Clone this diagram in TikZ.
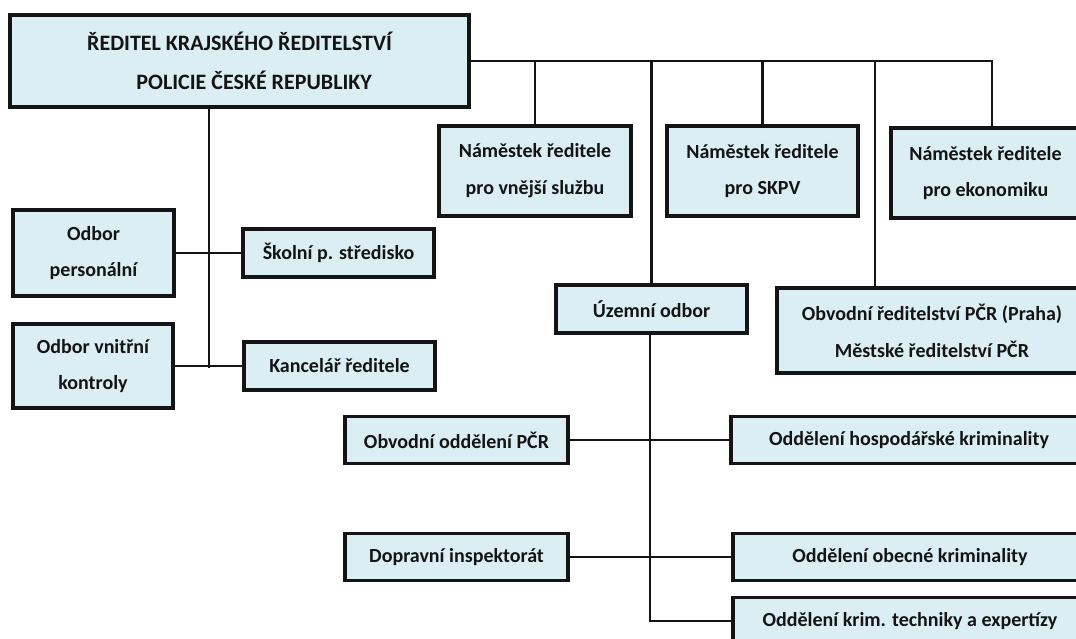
\documentclass[tikz,border=0pt]{standalone}
\usepackage{fontspec}
\setmainfont{Carlito}
\definecolor{boxfill}{HTML}{DAEEF3}
\definecolor{ink}{HTML}{141414}
\tikzset{
  box/.style 2 args={draw=ink, fill=boxfill, line width=2.3pt, inner sep=0pt,
    minimum width=#1*0.75pt, minimum height=#2*0.75pt, align=center,
    text=ink, font=\bfseries\fontsize{15}{27.6}\selectfont},
  topbox/.style={line width=3.7pt, font=\bfseries\fontsize{16.5}{28.2}\selectfont},
  conn/.style={draw=ink, line width=2pt},
}
\begin{document}
\begin{tikzpicture}[x=0.75pt, y=-0.75pt]
\useasboundingbox (0,0) rectangle (1076,639);
\begin{scope}
\clip (0,0) rectangle (1076,639);
% boxes
\node[box={459}{92}, topbox] (top) at (239.5,61)
  {ŘEDITEL KRAJSKÉHO ŘEDITELSTVÍ\\[1pt]\hspace*{22pt}POLICIE ČESKÉ REPUBLIKY};
\node[box={192}{90}] (vne) at (535,171) {Náměstek ředitele\\pro vnější službu};
\node[box={191}{90}] (skpv) at (762.5,171) {Náměstek ředitele\\pro SKPV};
\node[box={189}{90}] (eko) at (985.5,173) {Náměstek ředitele\\pro ekonomiku};
\node[box={161}{86}] (op) at (93.5,253) {Odbor\\personální};
\node[box={191}{48}] (sk) at (338.5,253) {Školní p. středisko};
\node[box={160}{84}] (vk) at (93,366) {Odbor vnitřní\\kontroly};
\node[box={191}{48}] (kan) at (339.5,366) {Kancelář ředitele};
\node[box={191}{48}] (uz) at (651.5,309) {Územní odbor};
\node[box={310}{85}] (obr) at (932,330.5) {Obvodní ředitelství PČR (Praha)\\Městské ředitelství PČR};
\node[box={223}{47}] (ood) at (456.5,440) {Obvodní oddělení PČR};
\node[box={356}{47}] (hos) at (909,440) {Oddělení hospodářské kriminality};
\node[box={223}{47}] (dop) at (456.5,557) {Dopravní inspektorát};
\node[box={354}{47}] (obe) at (910,557) {Oddělení obecné kriminality};
\node[box={354}{47}] (kri) at (910,621) {Oddělení krim. techniky a expertízy};
% connector coordinates
\coordinate (hr) at (992,61);
\coordinate (d4) at (875,61);
\coordinate (lv) at (209,368);
\coordinate (uv) at (650,621);
% connectors
\draw[conn] (top.east) -- (hr) -- (hr |- eko.north);
\draw[conn] (vne.north |- top.east) -- (vne.north);
\draw[conn] (uz.north |- top.east) -- (uz.north);
\draw[conn] (skpv.north |- top.east) -- (skpv.north);
\draw[conn] (d4) -- (d4 |- obr.north);
\draw[conn] (top.south -| lv) -- (lv);
\draw[conn] (op.east) -- (sk.west);
\draw[conn] (vk.east) -- (kan.west);
\draw[conn] (uz.south -| uv) -- (uv) -- (kri.west);
\draw[conn] (ood.east) -- (hos.west);
\draw[conn] (dop.east) -- (obe.west);
\end{scope}
\end{tikzpicture}
\end{document}
